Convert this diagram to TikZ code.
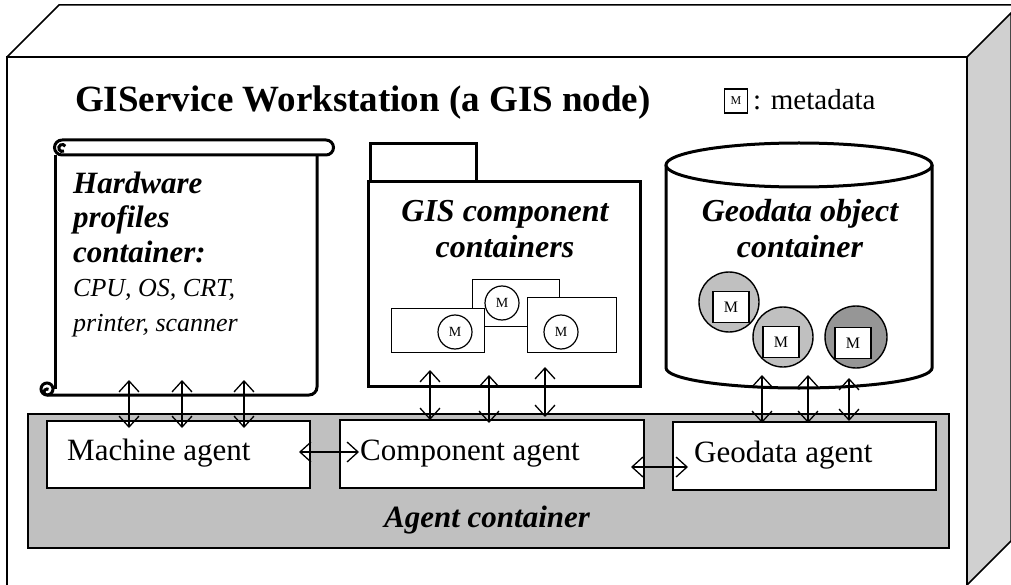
\documentclass[tikz,border=0pt]{standalone}
\usepackage{fontspec}
\setmainfont{Liberation Serif}
\usetikzlibrary{arrows.meta}
\definecolor{agentgray}{HTML}{C0C0C0}
\definecolor{sidegray}{HTML}{D0D0D0}
\definecolor{darkgeo}{HTML}{969696}

\begin{document}
\begin{tikzpicture}[x=1pt, y=-1pt]
    \tikzstyle{heavy} = [line width=3pt]
    \tikzstyle{agentbox} = [rectangle, draw, fill=white, line width=1.5pt, anchor=north west, inner sep=0pt]
    \tikzstyle{compbox} = [rectangle, draw, fill=white, line width=1.2pt, anchor=north west, inner sep=0pt]
    \tikzstyle{metacircle} = [circle, draw, fill=white, line width=1.2pt, minimum size=34pt, inner sep=0pt, font=\fontsize{14}{14}\selectfont]
    \tikzstyle{metasquare} = [rectangle, draw, fill=white, line width=1.4pt, minimum width=36pt, minimum height=31pt, inner sep=0pt, font=\fontsize{16}{16}\selectfont]
    \tikzstyle{geoball} = [circle, draw, line width=1.4pt, minimum size=60pt, inner sep=0pt]
    \tikzstyle{link} = [{Straight Barb[length=11pt,width=20pt]}-{Straight Barb[length=11pt,width=20pt]}, line width=1.3pt]
    \tikzstyle{containertext} = [font=\fontsize{32}{36}\selectfont\bfseries\itshape, align=center, anchor=base, inner sep=0pt]
    \tikzstyle{agenttext} = [font=\fontsize{31}{36}\selectfont, anchor=base west, inner sep=0pt]

    \useasboundingbox (0,0) rectangle (1011,585);

    % Workstation box
    \draw[line width=1.5pt, fill=white] (7,57) -- (59,5) -- (1011,5);
    \draw[line width=1.5pt, fill=sidegray] (967,57) -- (1011,13) -- (1011,541) -- (967,585) -- cycle;
    \draw[line width=1.5pt] (7,590) -- (7,57) -- (967,57) -- (967,590);
    \node[font=\fontsize{37}{40}\selectfont\bfseries, anchor=base west, inner sep=0pt] (title) at (75,112) {GIService Workstation (a GIS node)};
    \node[draw, line width=1.2pt, minimum width=23pt, minimum height=24pt, inner sep=0pt, font=\fontsize{12}{12}\selectfont] (legendbox) at (736,101) {M};
    \node[font=\fontsize{29}{30}\selectfont, anchor=base west, inner sep=0pt] (legendtext) at (753,110) {: metadata};

    % Hardware profiles scroll
    \draw[heavy, fill=white] (62,140) -- (326,140) arc(-90:90:7.5) -- (62,155) arc(90:270:7.5);
    \draw[heavy] (64,151) arc(60:330:3.5);
    \draw[heavy, rounded corners=8pt] (317,155) -- (317,395) -- (47,395);
    \draw[heavy] (55,155) -- (55,389);
    \draw[heavy, fill=white] (47,389) circle (6);
    \draw[heavy] (47,395) arc(90:300:3);
    \node[font=\fontsize{31}{34.5}\selectfont\bfseries\itshape, align=left, anchor=base west, inner sep=0pt] (hwtext) at (73,331)
        {Hardware\\profiles\\container:\\
         \mdseries\fontsize{26}{34.5}\selectfont CPU, OS, CRT,\\
         \mdseries\fontsize{26}{34.5}\selectfont printer, scanner};

    % GIS component folder
    \draw[heavy, fill=white] (370,144) rectangle (476,182);
    \draw[heavy, fill=white] (368,182) rectangle (640,386);
    \node[containertext] (comptext) at (505,258) {GIS component\\containers};
    \node[compbox, minimum width=87pt, minimum height=47pt] (compB) at (472,279) {};
    \node[compbox, minimum width=93pt, minimum height=44pt] (compA) at (391,308) {};
    \node[compbox, minimum width=89pt, minimum height=55pt] (compC) at (527,297) {};
    \node[metacircle] (metaA) at (455,332) {M};
    \node[metacircle] (metaB) at (502,303) {M};
    \node[metacircle] (metaC) at (561,332) {M};

    % Geodata cylinder
    \draw[heavy, fill=white] (666,165) -- (666,368) arc(180:0:133 and 20) -- (932,165);
    \draw[heavy, fill=white] (799,165) ellipse (133 and 22);
    \node[containertext] (geotext) at (800,258) {Geodata object\\container};
    \node[geoball, fill=agentgray] (geoA) at (729,302) {};
    \node[geoball, fill=agentgray] (geoB) at (783,337) {};
    \node[geoball, fill=darkgeo, minimum size=62pt] (geoC) at (856,337) {};
    \node[metasquare] (sqA) at (731,307) {M};
    \node[metasquare] (sqB) at (781,342) {M};
    \node[metasquare] (sqC) at (853,343) {M};

    % Agent container
    \node[draw, fill=agentgray, line width=1.5pt, minimum width=921pt, minimum height=134pt, anchor=north west, inner sep=0pt] (agents) at (27,413) {};
    \node[agentbox, minimum width=263pt, minimum height=67pt] (machine) at (46,420) {};
    \node[agentbox, minimum width=304pt, minimum height=68pt] (component) at (339,419) {};
    \node[agentbox, minimum width=263pt, minimum height=68pt] (geodata) at (672,421) {};
    \node[agenttext] at (67,460) {Machine agent};
    \node[agenttext] at (360,460) {Component agent};
    \node[agenttext] at (694,462) {Geodata agent};
    \node[font=\fontsize{31}{36}\selectfont\bfseries\itshape, anchor=base, inner sep=0pt] (agentlabel) at (487,527) {Agent container};

    % Connections
    \coordinate (hw1) at (129,380); \coordinate (ma1) at (129,428);
    \coordinate (hw2) at (182,380); \coordinate (ma2) at (182,428);
    \coordinate (hw3) at (244,380); \coordinate (ma3) at (244,428);
    \coordinate (gc1) at (430,370); \coordinate (ca1) at (430,420);
    \coordinate (gc2) at (489,375); \coordinate (ca2) at (489,423);
    \coordinate (gc3) at (545,367); \coordinate (ca3) at (545,417);
    \coordinate (go1) at (762,375); \coordinate (ga1) at (762,423);
    \coordinate (go2) at (808,375); \coordinate (ga2) at (808,423);
    \coordinate (go3) at (849,378); \coordinate (ga3) at (849,421);
    \coordinate (mc1) at (299,452); \coordinate (mc2) at (359,452);
    \coordinate (cg1) at (631,467); \coordinate (cg2) at (688,467);

    \draw[link] (hw1) -- (ma1);
    \draw[link] (hw2) -- (ma2);
    \draw[link] (hw3) -- (ma3);
    \draw[link] (gc1) -- (ca1);
    \draw[link] (gc2) -- (ca2);
    \draw[link] (gc3) -- (ca3);
    \draw[link] (go1) -- (ga1);
    \draw[link] (go2) -- (ga2);
    \draw[link] (go3) -- (ga3);
    \draw[link] (mc1) -- (mc2);
    \draw[link] (cg1) -- (cg2);
\end{tikzpicture}
\end{document}
